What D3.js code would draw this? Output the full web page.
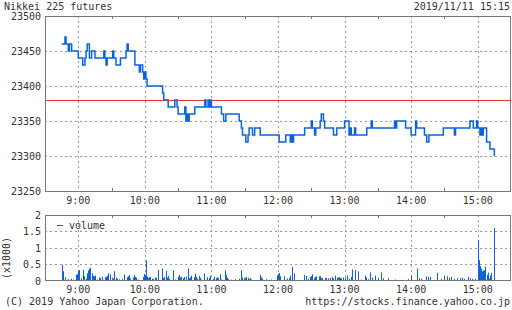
<!DOCTYPE html>
<html>
<head>
<meta charset="utf-8">
<script src="https://cdn.jsdelivr.net/npm/d3@7.9.0/dist/d3.min.js"></script>
<style>
  body { margin: 0; background: #fff; }
  svg { display: block; }
  text { font-family: "DejaVu Sans Mono", monospace; font-size: 10px; fill: #333; }
</style>
</head>
<body>
<div id="viz"></div>
<script>
// price: step change points [time, price]
const priceSteps = [
  ["8:45", 23460], ["8:48", 23470], ["8:49", 23460], ["8:51", 23450], ["8:52", 23460],
  ["8:54", 23450], ["9:00", 23440], ["9:04", 23430], ["9:06", 23440], ["9:07", 23450],
  ["9:08", 23460], ["9:10", 23440], ["9:12", 23450], ["9:15", 23440], ["9:23", 23450],
  ["9:24", 23440], ["9:25", 23430], ["9:26", 23440], ["9:31", 23450], ["9:32", 23440],
  ["9:34", 23430], ["9:38", 23440], ["9:43", 23450], ["9:44", 23460], ["9:45", 23450],
  ["9:51", 23430], ["9:55", 23420], ["9:56", 23430], ["9:58", 23420], ["9:59", 23410],
  ["10:00", 23420], ["10:01", 23410], ["10:02", 23400], ["10:16", 23390], ["10:17", 23380],
  ["10:21", 23370], ["10:27", 23380], ["10:29", 23370], ["10:30", 23360], ["10:36", 23370],
  ["10:37", 23350], ["10:38", 23360], ["10:39", 23350], ["10:40", 23360], ["10:45", 23370],
  ["10:54", 23380], ["10:55", 23370], ["10:57", 23380], ["10:58", 23370], ["10:59", 23380],
  ["11:00", 23370], ["11:09", 23360], ["11:11", 23350], ["11:13", 23360], ["11:25", 23350],
  ["11:27", 23340], ["11:28", 23330], ["11:31", 23320], ["11:33", 23330], ["11:34", 23340],
  ["11:37", 23330], ["11:39", 23340], ["11:44", 23330], ["12:01", 23320], ["12:07", 23330],
  ["12:11", 23320], ["12:12", 23330], ["12:13", 23320], ["12:14", 23330], ["12:24", 23340],
  ["12:30", 23350], ["12:31", 23340], ["12:33", 23330], ["12:34", 23340], ["12:38", 23350],
  ["12:39", 23360], ["12:41", 23350], ["12:42", 23340], ["12:50", 23330], ["12:53", 23340],
  ["13:00", 23350], ["13:04", 23330], ["13:05", 23340], ["13:06", 23330], ["13:09", 23340],
  ["13:10", 23330], ["13:20", 23340], ["13:24", 23350], ["13:25", 23340], ["13:45", 23350],
  ["13:46", 23340], ["13:47", 23350], ["13:55", 23340], ["14:00", 23330], ["14:04", 23350],
  ["14:05", 23340], ["14:12", 23330], ["14:14", 23320], ["14:16", 23330], ["14:29", 23340],
  ["14:39", 23330], ["14:40", 23340], ["14:53", 23350], ["14:56", 23340], ["14:59", 23350],
  ["15:00", 23340], ["15:02", 23330], ["15:03", 23340], ["15:04", 23330], ["15:05", 23340],
  ["15:08", 23320], ["15:11", 23310], ["15:15", 23300]
];

// previous close (red line)
const refPrice = 23380;

// volume (x1000): [minutes after 8:45 open, volume]
const volumeBars = [
  [0,0.48],[1,0.28],[3,0.09],[5,0.02],[6,0.04],[8,0.06],[10,0.03],[13,0.18],[14,0.19],[15,0.28],
  [16,0.32],[17,0.07],[19,0.32],[20,0.13],[22,0.06],[23,0.22],[24,0.31],[25,0.36],[26,0.39],[27,0.22],
  [28,0.14],[29,0.13],[30,0.15],[32,0.03],[34,0.09],[35,0.08],[36,0.12],[39,0.10],[40,0.11],[41,0.15],
  [42,0.22],[44,0.19],[46,0.06],[47,0.28],[49,0.09],[50,0.06],[52,0.04],[54,0.04],[56,0.18],[59,0.10],
  [60,0.13],[61,0.16],[62,0.06],[64,0.09],[65,0.17],[66,0.11],[67,0.09],[69,0.03],[73,0.11],[74,0.20],
  [75,0.17],[76,0.61],[77,0.12],[78,0.07],[79,0.10],[80,0.11],[81,0.05],[82,0.05],[84,0.09],[85,0.08],
  [87,0.32],[89,0.02],[90,0.37],[91,0.07],[92,0.11],[94,0.29],[95,0.09],[96,0.14],[97,0.05],[100,0.31],
  [102,0.03],[105,0.12],[106,0.17],[107,0.09],[108,0.12],[109,0.07],[110,0.11],[112,0.12],[114,0.37],[115,0.07],
  [116,0.10],[117,0.15],[119,0.10],[120,0.21],[121,0.11],[122,0.05],[124,0.14],[125,0.08],[126,0.03],[128,0.22],
  [131,0.10],[133,0.08],[134,0.14],[136,0.04],[137,0.12],[139,0.07],[140,0.10],[141,0.07],[143,0.19],[144,0.03],
  [147,0.31],[148,0.17],[149,0.08],[150,0.04],[153,0.03],[156,0.04],[157,0.01],[160,0.05],[162,0.31],[163,0.09],
  [164,0.07],[166,0.11],[168,0.08],[169,0.04],[170,0.07],[171,0.03],[179,0.18],[180,0.10],[181,0.06],[184,0.04],
  [189,0.03],[191,0.01],[194,0.15],[195,0.20],[196,0.23],[197,0.13],[200,0.13],[203,0.06],[205,0.07],[206,0.15],
  [208,0.42],[209,0.22],[218,0.17],[220,0.14],[222,0.04],[224,0.11],[225,0.13],[226,0.19],[227,0.07],[228,0.11],
  [229,0.13],[232,0.13],[233,0.13],[234,0.07],[235,0.08],[237,0.07],[238,0.08],[240,0.07],[242,0.08],[244,0.11],
  [245,0.06],[246,0.15],[248,0.09],[249,0.08],[250,0.11],[251,0.07],[252,0.07],[254,0.09],[255,0.09],[257,0.15],
  [259,0.05],[261,0.11],[262,0.34],[264,0.32],[267,0.28],[270,0.03],[273,0.15],[274,0.09],[276,0.04],[278,0.25],
  [280,0.09],[282,0.15],[288,0.25],[290,0.07],[294,0.07],[300,0.03],[306,0.02],[312,0.04],[315,0.15],[320,0.37],
  [322,0.07],[324,0.05],[328,0.13],[330,0.11],[332,0.11],[338,0.23],[342,0.05],[345,0.15],[347,0.13],[349,0.09],
  [351,0.11],[354,0.05],[356,0.07],[359,0.07],[361,0.09],[363,0.05],[366,0.11],[368,0.07],[370,0.05],[373,0.05],
  [375,1.23],[376,0.62],[377,0.44],[378,0.36],[379,0.28],[380,0.30],[381,0.32],[382,0.42],[383,0.17],[384,0.24],
  [385,0.05],[386,0.15],[387,0.23],[390,1.60]
];

const priceTicks = [23250, 23300, 23350, 23400, 23450, 23500];
const volumeTicks = [0, 0.5, 1, 1.5, 2];
const hourTicks = ["9:00", "10:00", "11:00", "12:00", "13:00", "14:00", "15:00"];
const halfTicks = ["9:30", "10:30", "11:30", "12:30", "13:30", "14:30"];

const title = "Nikkei 225 futures";
const stamp = "2019/11/11 15:15";
const copyright = "(C) 2019 Yahoo Japan Corporation.";
const url = "https://stocks.finance.yahoo.co.jp";

const width = 512, height = 310;
const blue = "#0a64dc";
const parse = d3.timeParse("%H:%M");
const openTime = parse("8:45");

const svg = d3.select("#viz").append("svg")
  .attr("width", width)
  .attr("height", height);

const x = d3.scaleTime()
  .domain([parse("8:30"), parse("15:30")])
  .range([45, 511]);

const yPrice = d3.scaleLinear().domain([23250, 23500]).range([191, 16]);
const yVol = d3.scaleLinear().domain([0, 2]).range([280.5, 215]);

function drawPanel(y, ticks, top, bottom, gridTicks) {
  const g = svg.append("g");
  // horizontal grid
  g.selectAll(".hg")
    .data(gridTicks)
    .join("line")
    .attr("x1", 45).attr("x2", 511)
    .attr("y1", d => Math.round(y(d)) + 0.5)
    .attr("y2", d => Math.round(y(d)) + 0.5)
    .attr("stroke", "#999")
    .attr("stroke-dasharray", "2,3");
  // vertical hour grid
  g.selectAll(".vg")
    .data(hourTicks)
    .join("line")
    .attr("x1", d => Math.round(x(parse(d))) + 0.5)
    .attr("x2", d => Math.round(x(parse(d))) + 0.5)
    .attr("y1", top).attr("y2", bottom)
    .attr("stroke", "#999")
    .attr("stroke-dasharray", "2,3");
  // half hour ticks, top and bottom
  halfTicks.forEach(t => {
    const xx = Math.round(x(parse(t))) + 0.5;
    g.append("line").attr("x1", xx).attr("x2", xx).attr("y1", top).attr("y2", top + 3).attr("stroke", "#777");
    g.append("line").attr("x1", xx).attr("x2", xx).attr("y1", bottom - 3).attr("y2", bottom).attr("stroke", "#777");
  });
  return g;
}

// ---- price panel
drawPanel(yPrice, priceTicks, 16, 191, [23300, 23350, 23400, 23450]);

svg.append("line")
  .attr("x1", 45).attr("x2", 511)
  .attr("y1", Math.round(yPrice(refPrice)) + 0.5)
  .attr("y2", Math.round(yPrice(refPrice)) + 0.5)
  .attr("stroke", "#ee3333")
  .attr("stroke-width", 1.2);

const priceLine = d3.line()
  .x(d => x(parse(d[0])))
  .y(d => yPrice(d[1]))
  .curve(d3.curveStepAfter);

svg.append("path")
  .datum(priceSteps)
  .attr("d", priceLine)
  .attr("fill", "none")
  .attr("stroke", blue)
  .attr("stroke-width", 1.5);

svg.append("rect")
  .attr("x", 45.5).attr("y", 16.5)
  .attr("width", 465).attr("height", 175)
  .attr("fill", "none")
  .attr("stroke", "#777");

svg.selectAll(".py")
  .data(priceTicks)
  .join("text")
  .attr("x", 41)
  .attr("y", d => yPrice(d) + 4)
  .attr("text-anchor", "end")
  .text(d => d);

svg.selectAll(".px")
  .data(hourTicks)
  .join("text")
  .attr("x", d => x(parse(d)))
  .attr("y", 204)
  .attr("text-anchor", "middle")
  .text(d => d);

// ---- volume panel
drawPanel(yVol, volumeTicks, 215, 280.5, [0.5, 1, 1.5]);

svg.selectAll(".vb")
  .data(volumeBars)
  .join("rect")
  .attr("x", d => Math.round(x(d3.timeMinute.offset(openTime, d[0]))))
  .attr("y", d => yVol(d[1]))
  .attr("width", 1)
  .attr("height", d => yVol(0) - yVol(d[1]))
  .attr("fill", blue);

svg.append("rect")
  .attr("x", 45.5).attr("y", 215.5)
  .attr("width", 465).attr("height", 65)
  .attr("fill", "none")
  .attr("stroke", "#777");

svg.selectAll(".vy")
  .data(volumeTicks)
  .join("text")
  .attr("x", 41)
  .attr("y", d => yVol(d) + 4)
  .attr("text-anchor", "end")
  .text(d => d);

svg.selectAll(".vx")
  .data(hourTicks)
  .join("text")
  .attr("x", d => x(parse(d)))
  .attr("y", 293)
  .attr("text-anchor", "middle")
  .text(d => d);

svg.append("text")
  .attr("transform", "translate(10,258) rotate(-90)")
  .attr("text-anchor", "middle")
  .text("(x1000)");

// legend
svg.append("line")
  .attr("x1", 57).attr("x2", 63)
  .attr("y1", 225.5).attr("y2", 225.5)
  .attr("stroke", blue);
svg.append("text").attr("x", 69).attr("y", 229).text("volume");

// header / footer
svg.append("text").attr("x", 4).attr("y", 10).text(title);
svg.append("text").attr("x", 510).attr("y", 10).attr("text-anchor", "end").text(stamp);
svg.append("text").attr("x", 5).attr("y", 305).text(copyright);
svg.append("text").attr("x", 510).attr("y", 305).attr("text-anchor", "end").text(url);
</script>
</body>
</html>
